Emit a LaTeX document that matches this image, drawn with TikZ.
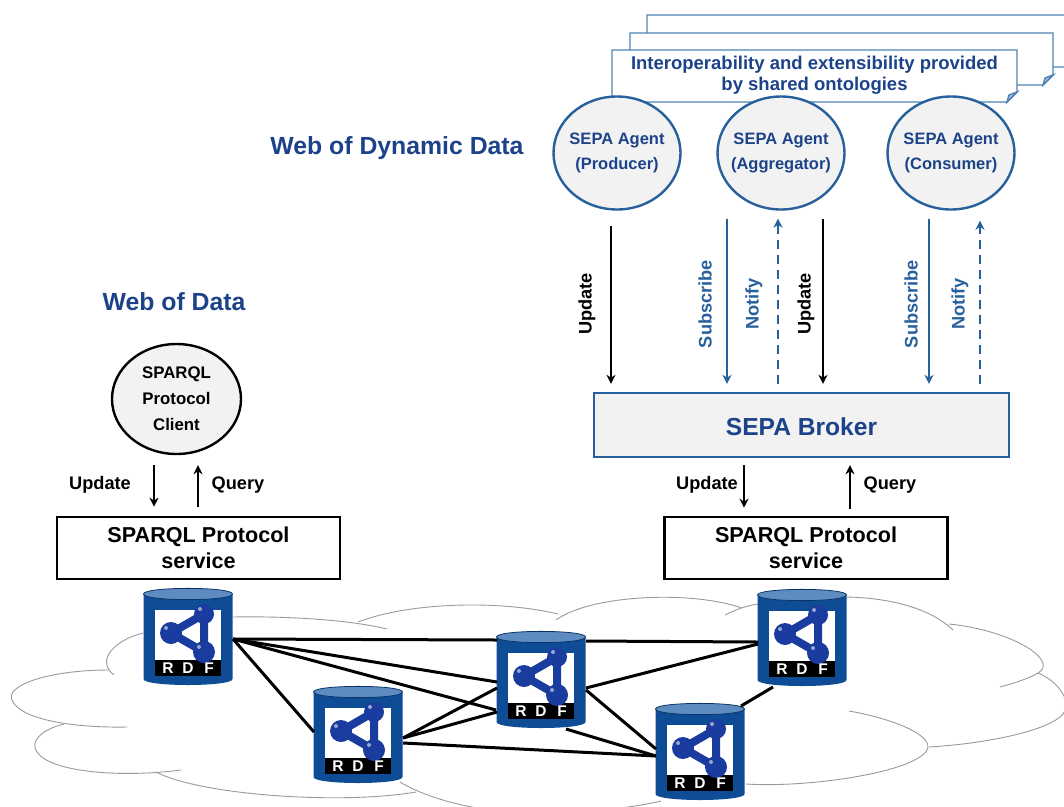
\documentclass[tikz,border=0pt]{standalone}
\usepackage{fontspec}
\setmainfont{Liberation Sans}
\usetikzlibrary{positioning, shapes.geometric, arrows.meta}
\definecolor{sepablue}{HTML}{1C4389}
\definecolor{edgeblue}{HTML}{27609C}
\definecolor{paperblue}{HTML}{4F83B5}
\definecolor{storeblue}{HTML}{0F4C96}
\definecolor{storetop}{HTML}{5F8CC0}
\definecolor{ballblue}{HTML}{1A3C9E}
\definecolor{softgray}{HTML}{F2F2F2}
\definecolor{cloudgray}{HTML}{9A9A9A}
\newcommand{\rdfstore}[2]{
	\node[store](#1) at (#2){};
	\begin{scope}[shift={(#2)}]
		\fill[storeblue] (-44.5,-43)--(-44.5,42) .. controls (-44.5,50) and (44.5,50) .. (44.5,42)--(44.5,-43)--cycle;
		\draw[storeblue!70!black,line width=0.8pt,fill=storetop] (-44.5,-43) .. controls (-44.5,-50.5) and (44.5,-50.5) .. (44.5,-43) .. controls (44.5,-35.5) and (-44.5,-35.5) .. cycle;
		\fill[white] (-33,-27) rectangle (33,23);
		\fill[black] (-33,23) rectangle (33,39);
		\draw[line width=8pt,ballblue,line join=round] (-17,-4)--(16,-23)--(16,15)--cycle;
		\fill[ballblue] (-17,-4) circle[radius=11];
		\fill[ballblue] (16,-23) circle[radius=10];
		\fill[ballblue] (16,15) circle[radius=11];
		\fill[ballblue!45!white] (-22,-9) circle[radius=2];
		\fill[ballblue!45!white] (12,-28) circle[radius=2];
		\fill[ballblue!45!white] (11,10) circle[radius=2];
		\node[rdfletter](#1r) at (-20,31){R};
		\node[rdfletter](#1d) at (0,31){D};
		\node[rdfletter](#1f) at (21,31){F};
	\end{scope}
}
\newcommand{\paperpage}[5]{
	\draw[paperedge,fill=white] (#1,#2)--(#3,#2)--(#3,#4)--(#5,#4+10)--(#1,#4+10)--cycle;
	\draw[paperedge,fill=paperblue!50] (#3,#4)--(#5,#4+10)--(#5+2,#4+3)--cycle;
}
\begin{document}
\begin{tikzpicture}[x=1pt,y=-1pt,font=\bfseries]
	\tikzstyle{store}=[rectangle,minimum width=89pt,minimum height=97pt,inner sep=0pt]
	\tikzstyle{rdfletter}=[white,font=\bfseries\fontsize{15.5}{15}\selectfont,inner sep=0pt]
	\tikzstyle{paperedge}=[draw=paperblue,line width=1.4pt]
	\tikzstyle{agent}=[ellipse,draw=edgeblue,fill=softgray,line width=2.4pt,minimum width=127pt,minimum height=113pt,inner xsep=-6pt,inner ysep=0pt,align=center,text=sepablue,font=\bfseries\fontsize{16.5}{25}\selectfont]
	\tikzstyle{client}=[ellipse,draw=black,fill=softgray,line width=2.4pt,minimum width=129pt,minimum height=110pt,inner sep=0pt,align=center,font=\bfseries\fontsize{16.8}{26}\selectfont]
	\tikzstyle{service}=[draw=black,fill=white,line width=2.6pt,minimum width=283pt,minimum height=62pt,inner sep=0pt,align=center,font=\bfseries\fontsize{21.6}{26}\selectfont]
	\tikzstyle{cloudline}=[draw=cloudgray,line width=0.9pt]
	\tikzstyle{link}=[line width=3pt,black]
	\tikzstyle{flow}=[line width=2.4pt,-{Stealth[length=9pt,width=9pt]}]
	\tikzstyle{pulse}=[dash pattern=on 9pt off 6pt]
	\tikzstyle{note}=[font=\bfseries\fontsize{18.2}{18}\selectfont,inner sep=0pt]
	\useasboundingbox (0,0) rectangle (1064,806);
	\clip (0,0) rectangle (1064,806);
	% cloud
	\draw[cloudline] (233,617) .. controls (290,616) and (350,620) .. (387,629);
	\draw[cloudline] (358,622) .. controls (410,602) and (500,600) .. (558,614);
	\draw[cloudline] (556,620) .. controls (590,595) and (690,590) .. (742,608);
	\draw[cloudline] (725,615) .. controls (735,610) and (745,606) .. (758,604);
	\draw[cloudline] (847,597) .. controls (890,598) and (930,608) .. (953,630);
	\draw[cloudline] (949,624) .. controls (1010,630) and (1060,660) .. (1038,673) .. controls (1030,678) and (1015,683) .. (1000,687);
	\draw[cloudline] (1038,673) .. controls (1060,682) and (1075,705) .. (1060,717) .. controls (1040,733) and (980,744) .. (929,747);
	\draw[cloudline] (849,711) .. controls (890,718) and (935,735) .. (927,750) .. controls (915,772) and (810,788) .. (746,784);
	\draw[cloudline] (661,801) .. controls (640,806) and (610,810) .. (583,811);
	\draw[cloudline] (143,633) .. controls (115,640) and (95,660) .. (114,675);
	\draw[cloudline] (109,670) .. controls (50,670) and (5,685) .. (12,700) .. controls (20,720) and (75,728) .. (127,727);
	\draw[cloudline] (64,724) .. controls (40,730) and (30,742) .. (37,752) .. controls (50,772) and (120,778) .. (181,770);
	\draw[cloudline] (156,772) .. controls (200,795) and (340,805) .. (416,792);
	\draw[cloudline] (400,782) .. controls (430,800) and (480,812) .. (532,814);
	% stores
	\rdfstore{storea}{188,637}
	\rdfstore{storeb}{358,735}
	\rdfstore{storec}{541,680}
	\rdfstore{stored}{802,638}
	\rdfstore{storee}{700,752}
	\path[link]
		([shift={(45,2)}]storea.center) edge ([shift={(-44,-40)}]storec.center)
		([shift={(45,2)}]storea.center) edge ([shift={(-44,2)}]storec.center)
		([shift={(45,2)}]storea.center) edge ([shift={(-45,30)}]storec.center)
		([shift={(45,2)}]storea.center) edge ([shift={(-44,-3)}]storeb.center)
		([shift={(45,3)}]storeb.center) edge ([shift={(-44,8)}]storec.center)
		([shift={(45,3)}]storeb.center) edge ([shift={(-44,32)}]storec.center)
		([shift={(45,8)}]storeb.center) edge ([shift={(-44,4)}]storee.center)
		([shift={(45,-39)}]storec.center) edge ([shift={(-44,4)}]stored.center)
		([shift={(45,8)}]storec.center) edge ([shift={(-44,6)}]stored.center)
		([shift={(45,10)}]storec.center) edge ([shift={(-44,-3)}]storee.center)
		([shift={(25,49)}]storec.center) edge ([shift={(-44,4)}]storee.center)
		([shift={(-29,49)}]stored.center) edge ([shift={(41,-46)}]storee.center);
	% web of dynamic data
	\paperpage{647}{15}{1076}{57}{1066}
	\paperpage{630}{33}{1053}{75}{1043}
	\paperpage{612}{50}{1017}{92}{1007}
	\node[align=center,text=sepablue,font=\bfseries\fontsize{18.5}{21}\selectfont](ontologies) at (814.5,75.5){Interoperability and extensibility provided\\by shared ontologies};
	\node[text=sepablue,font=\bfseries\fontsize{24.8}{25}\selectfont](dynamic) at (397,148.5){Web of Dynamic Data};
	\node[agent](producer) at (617,153){SEPA Agent\\(Producer)};
	\node[agent](aggregator) at (781,153){SEPA Agent\\(Aggregator)};
	\node[agent](consumer) at (951,153){SEPA Agent\\(Consumer)};
	\node[draw=edgeblue,fill=softgray,line width=2.4pt,minimum width=415pt,minimum height=64pt,inner sep=0pt,text=sepablue,font=\bfseries\fontsize{24.6}{25}\selectfont](broker) at (801.5,425){\raisebox{-10.5pt}[0pt][0pt]{SEPA Broker}};
	\node[service](sparqlb) at (806,548){SPARQL Protocol\\service};
	\draw[flow,black,shorten <=15pt,shorten >=8pt] ([xshift=-6pt]producer.south) -- ([xshift=-6pt]producer.south |- broker.north);
	\draw[flow,edgeblue,shorten <=8pt,shorten >=8pt] ([xshift=-54pt]aggregator.south) -- ([xshift=-54pt]aggregator.south |- broker.north);
	\draw[flow,edgeblue,pulse,shorten <=8pt,shorten >=8pt] ([xshift=-3pt]aggregator.south |- broker.north) -- ([xshift=-3pt]aggregator.south);
	\draw[flow,black,shorten <=8pt,shorten >=8pt] ([xshift=42pt]aggregator.south) -- ([xshift=42pt]aggregator.south |- broker.north);
	\draw[flow,edgeblue,shorten <=8pt,shorten >=8pt] ([xshift=-22pt]consumer.south) -- ([xshift=-22pt]consumer.south |- broker.north);
	\draw[flow,edgeblue,pulse,shorten <=8pt,shorten >=10pt] ([xshift=29pt]consumer.south |- broker.north) -- ([xshift=29pt]consumer.south);
	\node[note,rotate=90](updatea) at (587,304){Update};
	\node[note,rotate=90,text=edgeblue](subscribea) at (705,304){Subscribe};
	\node[note,rotate=90,text=edgeblue](notifya) at (754,304){Notify};
	\node[note,rotate=90](updateb) at (806,304){Update};
	\node[note,rotate=90,text=edgeblue](subscribeb) at (911,304){Subscribe};
	\node[note,rotate=90,text=edgeblue](notifyb) at (960,304){Notify};
	\draw[flow,black,shorten <=7pt,shorten >=8pt] ([xshift=-57.5pt]broker.south) -- ([xshift=-57.5pt]broker.south |- sparqlb.north);
	\draw[flow,black,shorten <=7pt,shorten >=7pt] ([xshift=48.5pt]broker.south |- sparqlb.north) -- ([xshift=48.5pt]broker.south);
	\node[note](updatec) at (707,485){Update};
	\node[note](queryb) at (890,485){Query};
	% web of data
	\node[text=sepablue,font=\bfseries\fontsize{24.8}{25}\selectfont](webdata) at (174,302){Web of Data};
	\node[client](sparqlclient) at (176.5,399){SPARQL\\Protocol\\Client};
	\node[service](sparqla) at (198.5,548){SPARQL Protocol\\service};
	\draw[flow,black,shorten <=10pt,shorten >=9pt] ([xshift=-22.5pt]sparqlclient.south) -- ([xshift=-22.5pt]sparqlclient.south |- sparqla.north);
	\draw[flow,black,shorten <=9pt,shorten >=10pt] ([xshift=21.5pt]sparqlclient.south |- sparqla.north) -- ([xshift=21.5pt]sparqlclient.south);
	\node[note](updated) at (100,485){Update};
	\node[note](querya) at (238,485){Query};
\end{tikzpicture}
\end{document}
